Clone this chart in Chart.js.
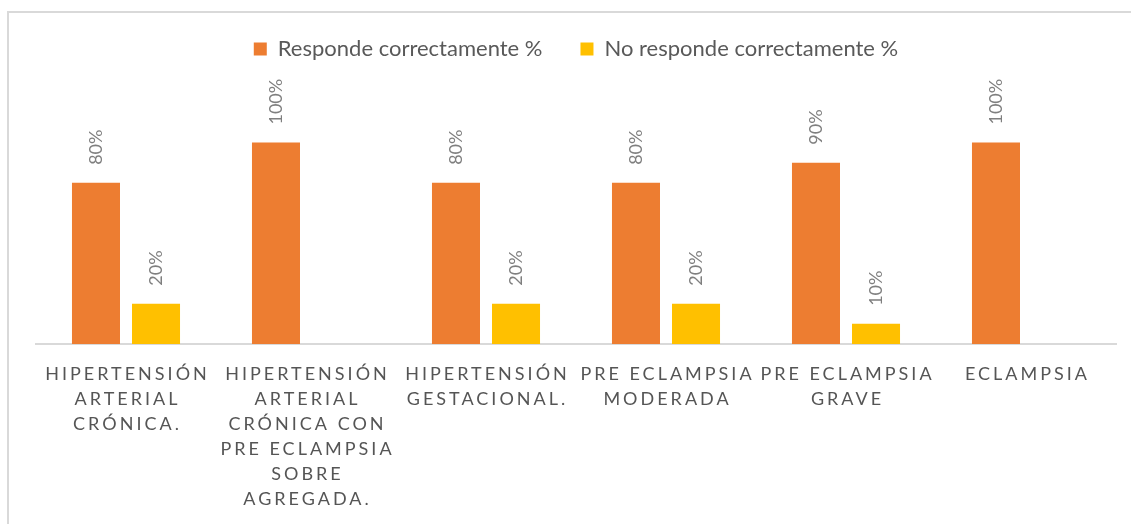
<!DOCTYPE html>
<html>
<head>
<meta charset="utf-8">
<script src="https://cdn.jsdelivr.net/npm/chart.js@4.4.1/dist/chart.umd.min.js"></script>
<style>
  html, body { margin: 0; padding: 0; background: #fff; overflow: hidden; }
  #wrap { position: relative; width: 1131px; height: 524px; }
  #frame { position: absolute; left: 7px; top: 11px; width: 1200px; height: 600px;
           border-left: 2px solid #d9d9d9; border-top: 2px solid #d9d9d9; }
  canvas { position: absolute; left: 0; top: 0; }
</style>
</head>
<body>
<div id="wrap">
  <div id="frame"></div>
  <canvas id="grafico" width="1131" height="524"></canvas>
</div>
<script>
// categorías (etiquetas del eje x, ya partidas en líneas)
const categorias = [
    ["HIPERTENSIÓN", "ARTERIAL", "CRÓNICA."],
    ["HIPERTENSIÓN", "ARTERIAL", "CRÓNICA CON", "PRE ECLAMPSIA", "SOBRE", "AGREGADA."],
    ["HIPERTENSIÓN", "GESTACIONAL."],
    ["PRE ECLAMPSIA", "MODERADA"],
    ["PRE ECLAMPSIA", "GRAVE"],
    ["ECLAMPSIA"]
];

// series
const responde = [80, 100, 80, 80, 90, 100];
const noResponde = [20, null, 20, 20, 10, null];

const nombreSeries = ["Responde correctamente %", "No responde correctamente %"];

const FUENTE = "Lato, 'Open Sans', sans-serif";

// etiquetas de datos giradas encima de las barras
const etiquetasDatos = {
    id: 'etiquetasDatos',
    afterDatasetsDraw(chart) {
        const ctx = chart.ctx;
        ctx.save();
        ctx.font = "18px " + FUENTE;
        ctx.fillStyle = '#7f7f7f';
        ctx.textAlign = 'left';
        ctx.textBaseline = 'middle';
        chart.data.datasets.forEach((ds, i) => {
            const meta = chart.getDatasetMeta(i);
            meta.data.forEach((bar, j) => {
                const v = ds.data[j];
                if (v === null || v === undefined) return;
                ctx.save();
                ctx.translate(bar.x, bar.y - 18);
                ctx.rotate(-Math.PI / 2);
                ctx.fillText(v + '%', 0, 0);
                ctx.restore();
            });
        });
        ctx.restore();
    }
};

// etiquetas del eje x con espaciado de letras
const etiquetasEje = {
    id: 'etiquetasEje',
    afterDraw(chart) {
        const ctx = chart.ctx;
        const x = chart.scales.x;
        ctx.save();
        ctx.font = "18px " + FUENTE;
        ctx.fillStyle = '#555555';
        ctx.textAlign = 'center';
        ctx.textBaseline = 'alphabetic';
        ctx.letterSpacing = '3px';
        categorias.forEach((lineas, i) => {
            const cx = x.getPixelForTick(i);
            lineas.forEach((t, k) => {
                ctx.fillText(t, cx + 1.5, x.bottom + 36 + k * 25);
            });
        });
        ctx.restore();
    }
};

new Chart(document.getElementById('grafico'), {
    type: 'bar',
    data: {
        labels: categorias,
        datasets: [{
            label: nombreSeries[0],
            data: responde,
            backgroundColor: '#ED7D31',
            categoryPercentage: 0.667,
            barPercentage: 0.8
        }, {
            label: nombreSeries[1],
            data: noResponde,
            backgroundColor: '#FFC000',
            categoryPercentage: 0.667,
            barPercentage: 0.8
        }]
    },
    options: {
        responsive: false,
        animation: false,
        layout: {
            padding: { left: 36, right: 15, top: 0, bottom: 180 }
        },
        scales: {
            x: {
                grid: { display: false, drawTicks: false },
                border: { display: true, color: '#d9d9d9', width: 2 },
                ticks: { display: false }
            },
            y: {
                display: false,
                min: 0,
                max: 136
            }
        },
        plugins: {
            legend: {
                position: 'top',
                labels: {
                    boxWidth: 13,
                    boxHeight: 13,
                    padding: 38,
                    color: '#595959',
                    font: { family: FUENTE, size: 22 }
                }
            },
            tooltip: { enabled: false }
        }
    },
    plugins: [etiquetasDatos, etiquetasEje]
});
</script>
</body>
</html>
